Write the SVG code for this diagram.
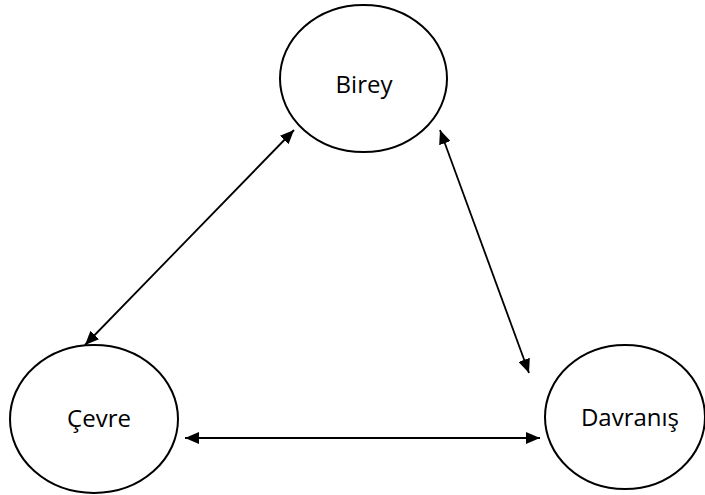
<svg xmlns="http://www.w3.org/2000/svg" width="705" height="495" viewBox="0 0 705 495">
<style>
.node ellipse{fill:#fff;stroke:#000;stroke-width:2}
.node text{font-family:"Open Sans","Noto Sans",sans-serif;font-size:24px;fill:#000;text-anchor:middle}
.conn line{stroke:#000;stroke-width:1.8}
</style>
<defs>
<marker id="ah" viewBox="0 0 14 12" refX="14" refY="6" markerWidth="14" markerHeight="12" markerUnits="userSpaceOnUse" orient="auto-start-reverse">
<path d="M0,0 L14,6 L0,12 z" fill="#000"/>
</marker>
</defs>
<rect width="705" height="495" fill="#fff"/>
<g id="birey" class="node">
<ellipse cx="363.5" cy="78.5" rx="83.5" ry="73.5"/>
<text x="364" y="93">Birey</text>
</g>
<g id="cevre" class="node">
<ellipse cx="94" cy="419" rx="84" ry="74"/>
<text x="99" y="427">Çevre</text>
</g>
<g id="davranis" class="node">
<ellipse cx="625" cy="417" rx="80" ry="72"/>
<text x="630" y="426">Davranış</text>
</g>
<g id="connectors" class="conn">
<line x1="85" y1="345" x2="294" y2="130" marker-start="url(#ah)" marker-end="url(#ah)"/>
<line x1="440" y1="130" x2="529" y2="373" marker-start="url(#ah)" marker-end="url(#ah)"/>
<line x1="185" y1="438" x2="540" y2="438" marker-start="url(#ah)" marker-end="url(#ah)"/>
</g>
</svg>
